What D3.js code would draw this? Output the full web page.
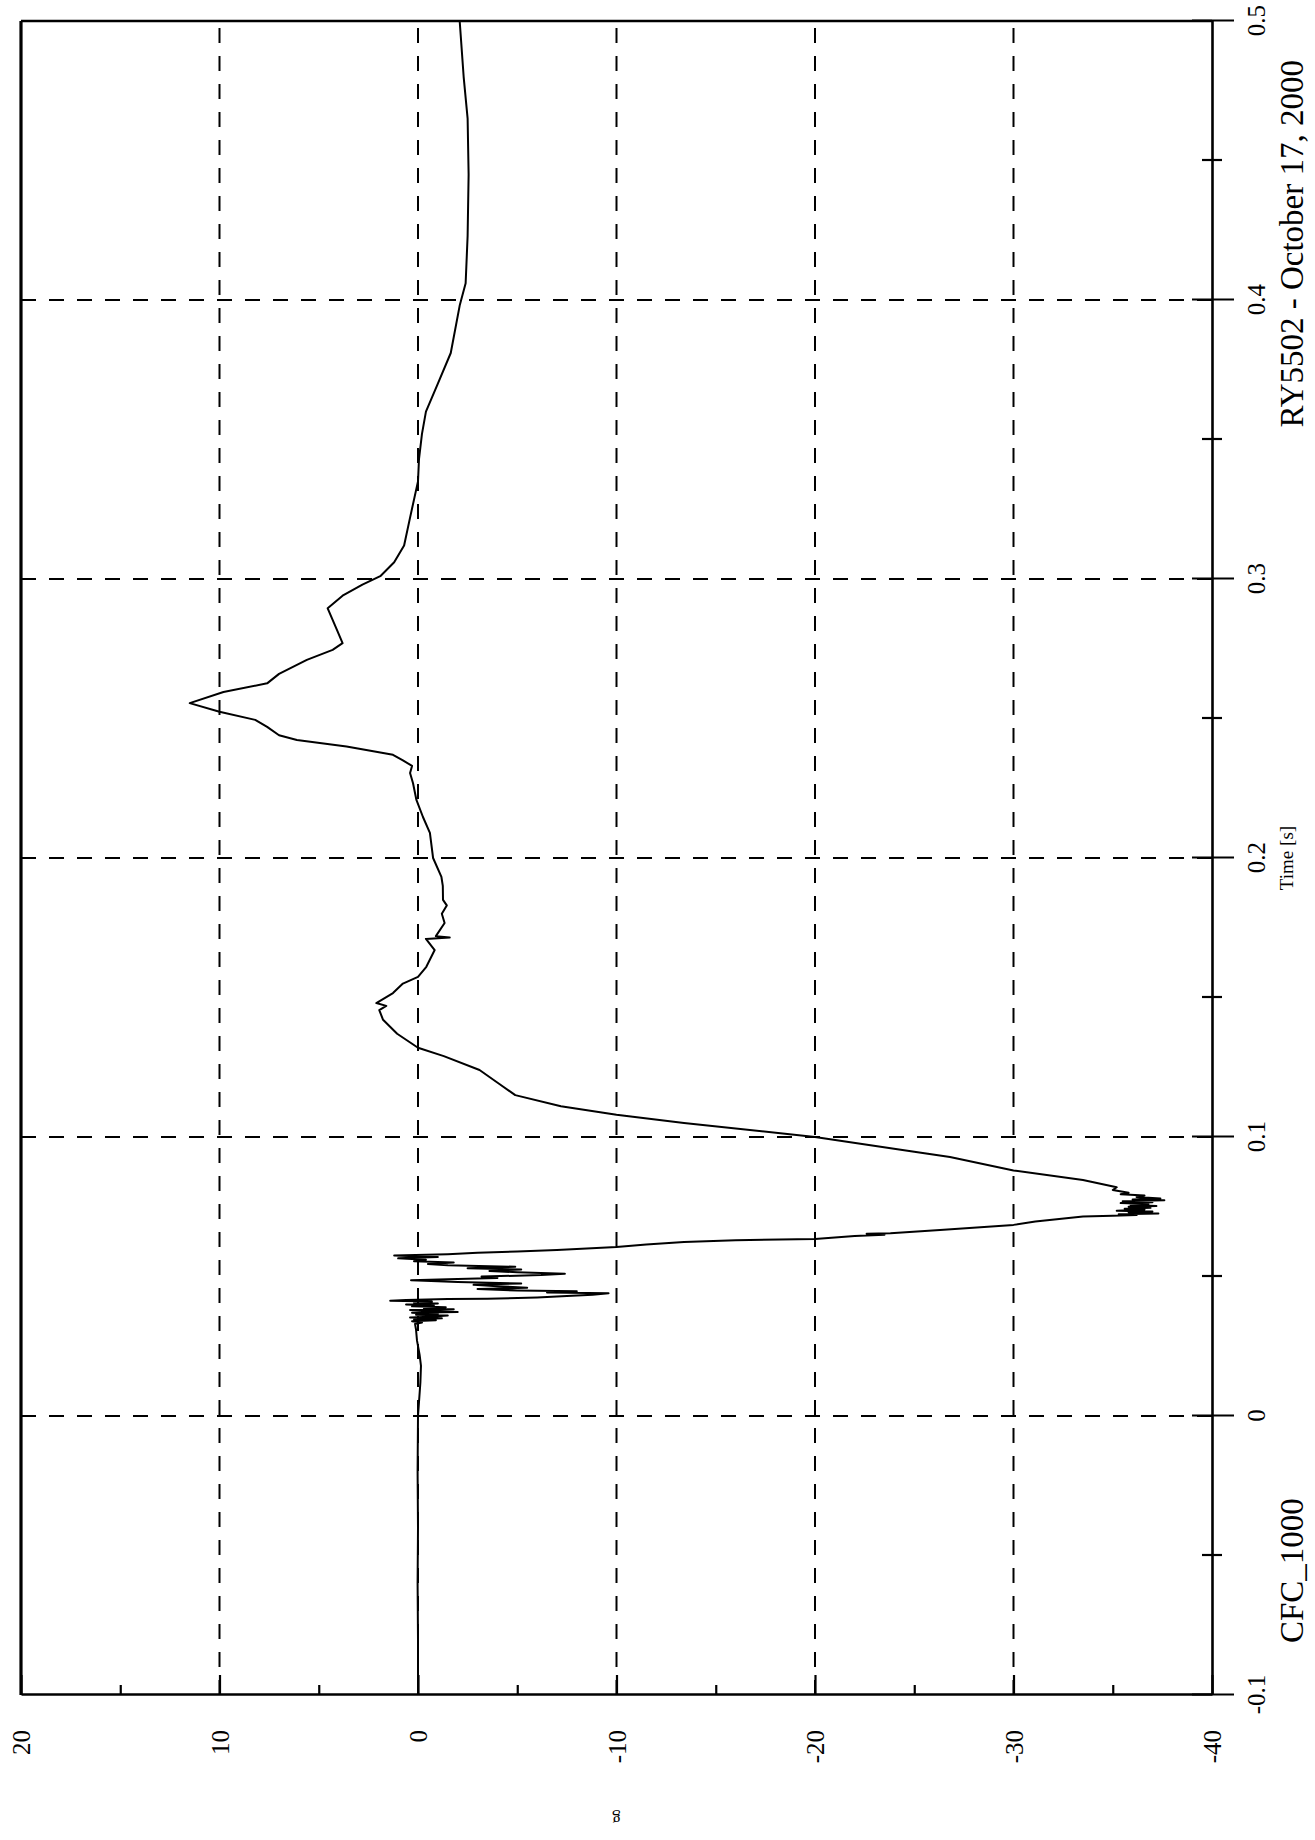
<!DOCTYPE html>
<html>
<head>
<meta charset="utf-8">
<script src="https://cdn.jsdelivr.net/npm/d3@7"></script>
<style>
  html, body { margin: 0; padding: 0; background: #fff; }
  svg { display: block; }
  text { font-family: "Liberation Serif", "Times New Roman", serif; fill: #000; }
</style>
</head>
<body>
<svg id="chart" width="1315" height="1840"></svg>
<script>
// ---- data (time in s, acceleration in g) ----
const time = [
  -0.1, -0.08, -0.06, -0.04, -0.02, 0.0, 0.005, 0.012, 0.018, 0.022, 0.027, 0.031, 0.033,
  0.0335, 0.034, 0.0343, 0.0346, 0.035, 0.0353, 0.0356, 0.036, 0.0363, 0.0366, 0.037, 0.0373,
  0.0376, 0.038, 0.0383, 0.0386, 0.039, 0.0393, 0.0396, 0.040, 0.0403, 0.0406, 0.041, 0.0413,
  0.0416, 0.0419, 0.042, 0.0425, 0.043, 0.0435, 0.044, 0.0443, 0.0447,
  0.045, 0.0455, 0.046, 0.0465, 0.047, 0.0475, 0.048, 0.0487, 0.049, 0.0495, 0.050, 0.0505,
  0.051, 0.0515, 0.052, 0.0525, 0.053, 0.0535, 0.054, 0.0545, 0.055, 0.0555, 0.056, 0.0565,
  0.057, 0.0575, 0.058, 0.0585, 0.059, 0.0595, 0.0606, 0.0615, 0.0624, 0.063, 0.0634, 0.0645,
  0.065, 0.0653, 0.0655, 0.0667, 0.0685, 0.0697, 0.0715, 0.0718, 0.072, 0.0723, 0.0726, 0.073,
  0.0733, 0.0736, 0.074, 0.0743, 0.0746, 0.075, 0.0753, 0.0756, 0.076, 0.0763, 0.0766, 0.077,
  0.0773, 0.0776, 0.078, 0.0785, 0.079, 0.0795, 0.080, 0.081, 0.082, 0.0846,
  0.088, 0.0928, 0.0947, 0.100, 0.105, 0.108, 0.111, 0.115, 0.119, 0.124, 0.129, 0.132,
  0.137, 0.142, 0.1455, 0.147, 0.148, 0.1516, 0.155, 0.1574, 0.161, 0.167, 0.171, 0.1715,
  0.172, 0.1767, 0.18, 0.183, 0.185, 0.19, 0.1932, 0.2, 0.209, 0.2147, 0.2208, 0.2268,
  0.2305, 0.233, 0.235, 0.237, 0.240, 0.2423, 0.244, 0.247, 0.2495, 0.2524, 0.2555, 0.2595,
  0.2626, 0.266, 0.271, 0.2746, 0.277, 0.282, 0.2895, 0.294, 0.298, 0.301, 0.306, 0.312,
  0.322, 0.335, 0.343, 0.352, 0.36, 0.37, 0.381, 0.398, 0.406, 0.423, 0.445, 0.465, 0.48,
  0.49, 0.5
];
const accel = [
  0.0, 0.0, 0.02, 0.0, 0.02, 0.0, -0.05, -0.12, -0.15, -0.08, 0.05, 0.1, 0.15,
  -0.2, 0.3, -0.9, 0.2, -1.2, 0.4, -0.6, -1.5, 0.1, -1.0, 0.3, -2.0,
  -0.4, 0.4, -1.8, -0.3, -1.4, 0.3, -0.8, 0.6, -1.0, 0.2, -0.7, 1.4,
  0.6, -1.5, -3.5, -6.0, -7.5, -8.8, -9.6, -6.5, -8.0,
  -5.0, -3.0, -5.5, -4.0, -2.8, -5.2, -2.0, 0.35, -1.5, -4.0, -3.2, -6.2,
  -7.4, -5.0, -3.6, -5.2, -2.5, -4.9, -1.5, -0.5, -1.8, 0.2, -0.4, 1.0,
  -1.0, 1.2, -1.5, -3.0, -5.0, -7.0, -10.0, -11.5, -13.4, -16.0, -20.0, -22.0,
  -23.5, -22.6, -23.8, -26.3, -30.0, -31.1, -33.5, -35.0, -36.2, -35.3, -37.3, -35.8,
  -37.0, -35.2, -36.6, -35.6, -36.9, -35.8, -37.2, -35.9, -36.8, -35.4, -37.0, -35.5,
  -37.6, -36.0, -37.4, -36.2, -36.6, -35.4, -35.8, -35.0, -35.2, -33.5,
  -30.0, -26.8, -25.0, -20.0, -13.4, -10.0, -7.2, -4.9, -4.1, -3.1, -1.3, 0.0,
  1.05, 1.76, 1.95, 1.6, 2.1, 1.26, 0.76, 0.0, -0.42, -0.84, -0.4, -1.6,
  -0.9, -1.34, -1.2, -1.45, -1.26, -1.25, -1.18, -0.76, -0.6, -0.25, 0.08, 0.25,
  0.4, 0.3, 0.76, 1.26, 3.6, 6.1, 7.0, 7.6, 8.2, 10.0, 11.5, 9.8,
  7.6, 7.0, 5.6, 4.3, 3.8, 4.1, 4.55, 3.8, 2.8, 1.9, 1.2, 0.7,
  0.4, 0.0, -0.05, -0.2, -0.4, -1.0, -1.65, -2.1, -2.4, -2.5, -2.55, -2.5, -2.3,
  -2.2, -2.1
];
const timeMajor = [-0.1, 0, 0.1, 0.2, 0.3, 0.4, 0.5];
const timeMinor = [-0.05, 0.05, 0.15, 0.25, 0.35, 0.45];
const timeGrid = [0, 0.1, 0.2, 0.3, 0.4];
const gMajor = [20, 10, 0, -10, -20, -30, -40];
const gMinor = [15, 5, -5, -15, -25, -35];
const gGrid = [10, 0, -10, -20, -30];
const xTitle = "Time [s]";
const yTitle = "g";
const leftNote = "CFC_1000";
const rightNote = "RY5502 - October 17, 2000";

// ---- layout (chart drawn landscape, then rotated -90°) ----
const W = 1674, H = 1191;
const svg = d3.select("#chart");
svg.append("rect").attr("width", 1315).attr("height", 1840).attr("fill", "#fff");
const g = svg.append("g").attr("transform", "translate(21,1695) rotate(-90)");

const x = d3.scaleLinear().domain([-0.1, 0.5]).range([0, W]);
const y = d3.scaleLinear().domain([20, -40]).range([0, H]);

const fmtT = d => String(+d.toFixed(2));
const fmtG = d => String(d);

// grid
g.append("g").selectAll("line").data(timeGrid).join("line")
  .attr("x1", d => x(d)).attr("x2", d => x(d)).attr("y1", 0).attr("y2", H)
  .attr("stroke", "#000").attr("stroke-width", 2).attr("stroke-dasharray", "15,13");
g.append("g").selectAll("line").data(gGrid).join("line")
  .attr("y1", d => y(d)).attr("y2", d => y(d)).attr("x1", 0).attr("x2", W)
  .attr("stroke", "#000").attr("stroke-width", 2).attr("stroke-dasharray", "15,13");

// frame (top = 20 g, right = 0.5 s)
g.append("line").attr("x1", 0).attr("x2", W).attr("y1", y(20)).attr("y2", y(20))
  .attr("stroke", "#000").attr("stroke-width", 3.2);
g.append("line").attr("x1", x(0.5)).attr("x2", x(0.5)).attr("y1", 0).attr("y2", H)
  .attr("stroke", "#000").attr("stroke-width", 2.6);

// time axis (bottom in chart frame -> right side on page)
const gx = g.append("g").attr("transform", `translate(0,${H})`)
  .call(d3.axisBottom(x).tickValues(timeMajor).tickFormat(fmtT).tickSize(22).tickSizeOuter(0));
gx.select(".domain").attr("stroke-width", 2.6);
gx.selectAll(".tick line").attr("y1", -20).attr("stroke-width", 2.2);
gx.selectAll(".tick text").attr("y", 53).attr("dy", null)
  .attr("font-size", 25).attr("font-family", "Liberation Serif, serif");
const gxm = g.append("g").attr("transform", `translate(0,${H})`)
  .call(d3.axisBottom(x).tickValues(timeMinor).tickFormat("").tickSize(10).tickSizeOuter(0));
gxm.select(".domain").remove();
gxm.selectAll(".tick line").attr("y1", -10).attr("stroke-width", 2.2);

// g axis (left in chart frame -> bottom on page)
const gy = g.append("g")
  .call(d3.axisLeft(y).tickValues(gMajor).tickFormat(fmtG).tickSize(18).tickSizeOuter(0));
gy.select(".domain").attr("stroke-width", 2.6);
gy.selectAll(".tick line").attr("x2", 20).attr("stroke-width", 2.2);
gy.selectAll(".tick text").attr("x", -35).attr("dy", "0.35em")
  .attr("font-size", 25).attr("font-family", "Liberation Serif, serif");
const gym = g.append("g")
  .call(d3.axisLeft(y).tickValues(gMinor).tickFormat("").tickSize(10).tickSizeOuter(0));
gym.select(".domain").remove();
gym.selectAll(".tick line").attr("x2", 10).attr("stroke-width", 2.2);

// titles and notes
g.append("text").attr("x", x(0.2)).attr("y", H + 81).attr("text-anchor", "middle")
  .attr("font-size", 19).text(xTitle);
g.append("text").attr("transform", `translate(-124,${y(-10)}) rotate(-90)`)
  .attr("text-anchor", "middle").attr("dy", "0.3em").attr("font-size", 17).text(yTitle);
g.append("text").attr("x", 52).attr("y", H + 91).attr("text-anchor", "start")
  .attr("font-size", 33).text(leftNote);
g.append("text").attr("x", 1635).attr("y", H + 91).attr("text-anchor", "end")
  .attr("font-size", 33).text(rightNote);

// curve
const pts = time.map((t, i) => ({ t, v: accel[i] }));
g.append("path").datum(pts)
  .attr("fill", "none").attr("stroke", "#000").attr("stroke-width", 2)
  .attr("stroke-linejoin", "round")
  .attr("d", d3.line().x(d => x(d.t)).y(d => y(d.v)));
</script>
</body>
</html>
